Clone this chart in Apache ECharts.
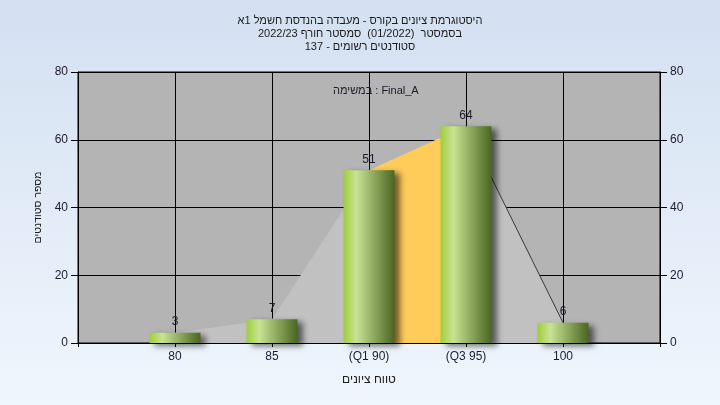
<!DOCTYPE html>
<html>
<head>
<meta charset="utf-8">
<script src="https://cdn.jsdelivr.net/npm/echarts@6/dist/echarts.min.js"></script>
<style>html,body{margin:0;padding:0;}#c{width:720px;height:405px;}</style>
</head>
<body>
<div id="c"></div>
<script>
// ---- data ----
const categories = ['', '80', '85', '(Q1 90)', '(Q3 95)', '100', ''];
const counts = [null, 3, 7, 51, 64, 6, null];
const iqrBand = [null, null, null, 51, 64, null, null];
const tailLine = [null, null, null, null, 64, 6, null];
const yTicks = { min: 0, max: 80, interval: 20 };
const RLE = '\u202B', PDF = '\u202C';
const titleLines = [
  'היסטוגרמת ציונים בקורס - מעבדה בהנדסת חשמל 1א',
  'בסמסטר  (01/2022)  סמסטר חורף 2022/23',
  'סטודנטים רשומים - 137'
];
const taskLabel = 'במשימה : Final_A';
const xName = 'טווח ציונים';
const yName = 'מספר סטודנטים';

const FONT = '"Liberation Sans", "DejaVu Sans", sans-serif';
const chart = echarts.init(document.getElementById('c'));
const yAxisBase = {
  type: 'value', min: yTicks.min, max: yTicks.max, interval: yTicks.interval,
  axisLine: { show: true, lineStyle: { color: '#000', width: 1 } },
  axisTick: { show: true, length: 7, lineStyle: { color: '#000' } },
  axisLabel: { color: '#1c1c30', fontSize: 12, fontFamily: FONT, margin: 10 },
  splitLine: { show: true, lineStyle: { color: '#000', width: 1 } }
};
chart.setOption({
  animation: false,
  backgroundColor: { type: 'linear', x: 0, y: 0, x2: 0, y2: 1,
    colorStops: [{ offset: 0, color: '#d3e0f1' }, { offset: 1, color: '#f0f6fd' }] },
  textStyle: { fontFamily: FONT },
  title: [
    { text: titleLines.map(s => RLE + s + PDF).join('\n'), left: 'center', top: 9,
      textStyle: { fontSize: 11, fontWeight: 'normal', color: '#1a1a1a', lineHeight: 13, fontFamily: FONT } },
    { text: taskLabel, left: 328, top: 80,
      textStyle: { fontSize: 11, fontWeight: 'normal', color: '#1a1a2a', fontFamily: FONT } }
  ],
  grid: { left: 78, right: 60, top: 72, bottom: 62, show: true, backgroundColor: '#b4b4b4',
    borderColor: '#000', borderWidth: 1 },
  xAxis: {
    type: 'category', data: categories, boundaryGap: false,
    name: RLE + xName + PDF, nameLocation: 'middle', nameGap: 31,
    nameTextStyle: { fontSize: 12, color: '#1a1a1a', fontFamily: FONT },
    axisLine: { lineStyle: { color: '#000' } },
    axisTick: { show: true, length: 4, lineStyle: { color: '#000' } },
    axisLabel: { color: '#1c1c30', fontSize: 12, fontFamily: FONT, margin: 8, interval: 0 },
    splitLine: { show: true, interval: 0, lineStyle: { color: '#000', width: 1 } }
  },
  yAxis: [
    Object.assign({}, yAxisBase, { position: 'left', name: RLE + yName + PDF, nameLocation: 'middle', nameGap: 34,
      nameTextStyle: { fontSize: 10.5, color: '#1a1a1a', fontFamily: FONT } }),
    Object.assign({}, yAxisBase, { position: 'right' })
  ],
  series: [
    { type: 'line', data: counts, symbol: 'none', lineStyle: { width: 0 },
      areaStyle: { color: '#c1c1c1', opacity: 1 }, z: 1, silent: true },
    { type: 'line', data: iqrBand, symbol: 'none', lineStyle: { width: 0 },
      areaStyle: { color: '#ffcc5a', opacity: 1 }, z: 2, silent: true },
    { type: 'line', data: tailLine, symbol: 'none', lineStyle: { width: 1, color: '#3a3a3a' }, z: 3, silent: true },
    { type: 'bar', data: counts, barWidth: 51, z: 4,
      itemStyle: {
        color: new echarts.graphic.LinearGradient(0, 0, 1, 0, [
          { offset: 0, color: '#9fcd3c' },
          { offset: 0.25, color: '#c8e393' },
          { offset: 1, color: '#4a6620' }
        ]),
        shadowColor: 'rgba(0,0,0,0.55)', shadowBlur: 6, shadowOffsetX: 5, shadowOffsetY: 3
      },
      label: { show: true, position: 'top', distance: 5, color: '#1a1a2a', fontSize: 12, fontFamily: FONT }
    }
  ]
});
</script>
</body>
</html>
